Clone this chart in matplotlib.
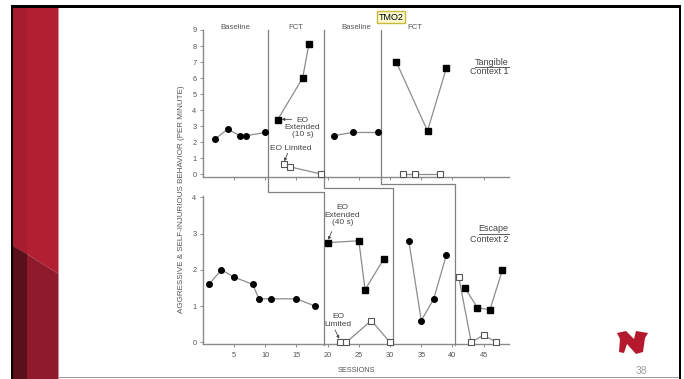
import matplotlib
matplotlib.use("Agg")
import matplotlib.pyplot as plt
from matplotlib.patches import Polygon, Rectangle
from matplotlib.transforms import blended_transform_factory

plt.rcParams["font.family"] = ["Liberation Sans", "DejaVu Sans"]

# ---- session data (rate per minute) ----
# top panel: tangible, context 1
tan_bl1_x = [2, 4, 6, 7, 10]
tan_bl1_y = [2.2, 2.8, 2.4, 2.4, 2.6]
tan_ext1_x = [12, 16, 17]
tan_ext1_y = [3.4, 6.0, 8.1]
tan_lim1_x = [13, 14, 19]
tan_lim1_y = [0.65, 0.45, 0.0]
tan_bl2_x = [21, 24, 28]
tan_bl2_y = [2.4, 2.6, 2.6]
tan_ext2_x = [31, 36, 39]
tan_ext2_y = [7.0, 2.7, 6.6]
tan_lim2_x = [32, 34, 38]
tan_lim2_y = [0.0, 0.0, 0.0]

# bottom panel: escape, context 2
esc_bl1_x = [1, 3, 5, 8, 9, 11, 15, 18]
esc_bl1_y = [1.6, 2.0, 1.8, 1.6, 1.2, 1.2, 1.2, 1.0]
esc_ext1_x = [20, 25, 26, 29]
esc_ext1_y = [2.75, 2.8, 1.45, 2.3]
esc_lim1_x = [22, 23, 27, 30]
esc_lim1_y = [0.0, 0.0, 0.6, 0.0]
esc_bl2_x = [33, 35, 37, 39]
esc_bl2_y = [2.8, 0.6, 1.2, 2.4]
esc_ext2_x = [42, 44, 46, 48]
esc_ext2_y = [1.5, 0.95, 0.9, 2.0]
esc_lim2_x = [41, 43, 45, 47]
esc_lim2_y = [1.8, 0.0, 0.2, 0.0]

# phase change lines: session in top panel, session in bottom panel
phase_top = [10.4, 19.5, 28.5]
phase_bot = [19.5, 30.5, 40.4]
phase_names = ["Baseline", "FCT", "Baseline", "FCT"]
phase_name_x = [5.2, 15.0, 24.6, 34.0]

W, H = 684, 379
fig = plt.figure(figsize=(W / 100, H / 100), dpi=100)

# slide background drawn in pixel coordinates
bg = fig.add_axes([0, 0, 1, 1], zorder=-5)
bg.set_xlim(0, W)
bg.set_ylim(H, 0)
bg.axis("off")


def box(x0, y0, x1, y1, c):
    bg.add_patch(Rectangle((x0, y0), x1 - x0, y1 - y0, color=c, lw=0))


def poly(pts, c):
    bg.add_patch(Polygon(pts, closed=True, color=c, lw=0))


poly([(13, 7.5), (58.5, 7.5), (58.5, 274), (27, 254), (13, 246)], "#b21f32")
poly([(13, 7.5), (27, 7.5), (27, 254), (13, 246)], "#a71c2e")
poly([(27, 254), (58.5, 274), (58.5, 379), (27, 379)], "#8e1a2b")
poly([(13, 246), (27, 254), (27, 379), (13, 379)], "#5a101a")
box(11, 5, 681, 7.5, "black")
box(11, 5, 13.3, 379, "black")
box(678.5, 5, 681, 379, "black")
box(58.5, 377, 678.5, 378.2, "#9a9a9a")

# logo
poly([(617, 333), (626, 331), (634, 339), (636, 331), (648, 333), (645, 338),
      (643, 352), (636, 354), (627, 344), (624, 353), (619, 352), (620, 339)],
     "#b5192d")
fig.text(641 / W, 1 - 371 / H, "38", fontsize=7.5, color="#a0a0a0",
         ha="center", va="center")

# chart panels
ax_top = fig.add_axes([202.7 / W, 1 - 177.3 / H, 306 / W, 147.3 / H])
ax_bot = fig.add_axes([202.7 / W, 1 - 344.1 / H, 306 / W, 148.6 / H])
ax_top.set_ylim(-0.2, 9)
ax_bot.set_ylim(-0.05, 4.05)
for ax in (ax_top, ax_bot):
    ax.set_xlim(0, 49)
    ax.patch.set_visible(False)
    for s in ("top", "right"):
        ax.spines[s].set_visible(False)
    for s in ("left", "bottom"):
        ax.spines[s].set_color("#8a8a8a")
        ax.spines[s].set_linewidth(1.0)
    ax.tick_params(direction="out", length=2.5, width=0.7, color="#8a8a8a",
                   labelsize=5.3, labelcolor="#555555", pad=2)
    ax.set_xticks(range(5, 50, 5))
ax_top.set_xticklabels([])
ax_top.set_yticks(range(0, 10))
ax_bot.set_yticks(range(0, 5))
ax_bot.tick_params(axis="x", pad=3)

LINE = "#8c8c8c"


def series(ax, x, y, marker, filled=True):
    ax.plot(x, y, color=LINE, lw=0.9, zorder=2, clip_on=False)
    if filled:
        ax.plot(x, y, marker, ls="none", ms=4.0, mfc="black", mec="black",
                zorder=3, clip_on=False)
    else:
        ax.plot(x, y, marker, ls="none", ms=3.8, mfc="white", mec="#555555",
                mew=0.8, zorder=3, clip_on=False)


series(ax_top, tan_bl1_x, tan_bl1_y, "o")
series(ax_top, tan_ext1_x, tan_ext1_y, "s")
series(ax_top, tan_lim1_x, tan_lim1_y, "s", filled=False)
series(ax_top, tan_bl2_x, tan_bl2_y, "o")
series(ax_top, tan_ext2_x, tan_ext2_y, "s")
series(ax_top, tan_lim2_x, tan_lim2_y, "s", filled=False)

series(ax_bot, esc_bl1_x, esc_bl1_y, "o")
series(ax_bot, esc_ext1_x, esc_ext1_y, "s")
series(ax_bot, esc_lim1_x, esc_lim1_y, "s", filled=False)
series(ax_bot, esc_bl2_x, esc_bl2_y, "o")
series(ax_bot, esc_ext2_x, esc_ext2_y, "s")
series(ax_bot, esc_lim2_x, esc_lim2_y, "s", filled=False)

# staggered phase-change lines running through both panels
blend = blended_transform_factory(ax_top.transData, fig.transFigure)
step_px = [192, 188, 184]
for xt, xb, sp in zip(phase_top, phase_bot, step_px):
    ys = [1 - 30 / H, 1 - sp / H, 1 - sp / H, 1 - 345 / H]
    ax_top.plot([xt, xt, xb, xb], ys, color="#808080", lw=0.9,
                transform=blend, clip_on=False, zorder=1)

for name, x in zip(phase_names, phase_name_x):
    ax_top.text(x, 9.17, name, ha="center", va="center", fontsize=5.6,
                color="#555555", clip_on=False)

txt = dict(fontsize=6, color="#444444", ha="center", va="center",
           linespacing=1.05)
arrow = dict(arrowstyle="-|>", color="#444444", lw=0.6, mutation_scale=4,
             shrinkA=0, shrinkB=0)

ax_top.text(16.0, 2.92, "EO\nExtended\n(10 s)", **txt)
ax_top.annotate("", xy=(12.65, 3.42), xytext=(14.25, 3.42), arrowprops=arrow)
ax_top.text(14.15, 1.62, "EO Limited", **txt)
ax_top.annotate("", xy=(13.07, 0.8), xytext=(13.6, 1.3), arrowprops=arrow)

ax_bot.text(22.35, 3.51, "EO\nExtended\n(40 s)", **txt)
ax_bot.annotate("", xy=(20.1, 2.83), xytext=(20.65, 3.05), arrowprops=arrow)
ax_bot.text(21.7, 0.6, "EO\nLimited", **txt)
ax_bot.annotate("", xy=(21.85, 0.1), xytext=(21.2, 0.34), arrowprops=arrow)

ctx = dict(fontsize=6.5, color="#444444", ha="right", va="center")
t1 = ax_top.text(49, 7.0, "Tangible", **ctx)
ax_top.text(49, 6.4, "Context 1", **ctx)
t2 = ax_bot.text(49, 3.13, "Escape", **ctx)
ax_bot.text(49, 2.84, "Context 2", **ctx)

fig.text(356.7 / W, 1 - 371 / H, "SESSIONS", fontsize=5.3, color="#555555",
         ha="center", va="center")
fig.text(181.7 / W, 1 - 199 / H,
         "AGGRESSIVE & SELF-INJURIOUS BEHAVIOR (PER MINUTE)", rotation=90,
         fontsize=5.8, color="#555555", ha="center", va="center")

fig.text(391 / W, 1 - 17 / H, "TMO2", fontsize=6.5, color="black",
         ha="center", va="center",
         bbox=dict(boxstyle="square,pad=0.18", fc="#fdfbd0", ec="#c9b83a",
                   lw=1.0))

# underline the context headings
fig.canvas.draw()
for t in (t1, t2):
    bb = t.get_window_extent()
    yline = H - bb.y0 + 0.3
    bg.plot([bb.x0, bb.x1], [yline, yline], color="#444444", lw=0.6)

fig.savefig("out.png", dpi=100)
